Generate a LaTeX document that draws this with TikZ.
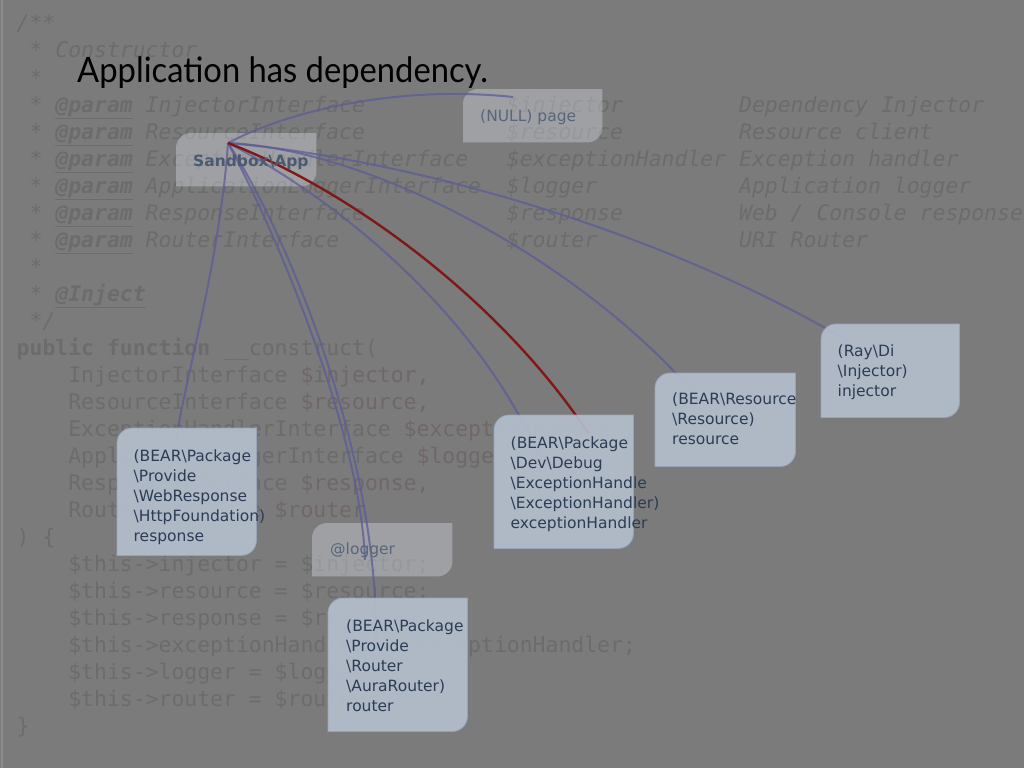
\documentclass[tikz,border=0pt]{standalone}
\usepackage{fontspec}
\setmainfont{DejaVu Sans}
\newfontfamily\codefont{DejaVu Sans Mono}
\newfontfamily\titlefont{Lato}[FakeStretch=0.935]
\usetikzlibrary{calc}
\definecolor{bgc}{RGB}{123,123,123}
\definecolor{codec}{RGB}{108,108,108}
\definecolor{varc}{RGB}{112,104,104}
\definecolor{boxc}{RGB}{181,192,207}
\definecolor{boxline}{RGB}{150,164,184}
\definecolor{lightbox}{RGB}{208,213,220}
\definecolor{boxtxt}{RGB}{44,60,84}
\definecolor{mutetxt}{RGB}{88,102,122}
\definecolor{edgec}{RGB}{92,92,150}
\definecolor{redc}{RGB}{128,24,24}
\pgfdeclarelayer{code}
\pgfdeclarelayer{under}
\pgfdeclarelayer{edges}
\pgfdeclarelayer{over}
\pgfsetlayers{code,under,edges,over,main}
\tikzset{
  codetxt/.style={inner sep=0pt, text=codec, font=\codefont\fontsize{21.43}{27}\selectfont},
  codeit/.style={font=\codefont\itshape\fontsize{21.43}{27}\selectfont},
  bxn/.style={inner sep=0pt, draw=none, fill=none, anchor=north west},
  btxt/.style={inner sep=0pt, anchor=north west, align=left, text=boxtxt, font=\fontsize{15.5}{20}\selectfont},
  mtxt/.style={btxt, text=mutetxt},
  edge/.style={draw=edgec, draw opacity=0.75, line width=2pt},
  redge/.style={draw=redc, line width=2.4pt},
  opaquebox/.style={fill=boxc, fill opacity=0.9, draw=boxline, line width=0.8pt},
  clearbox/.style={fill=lightbox, fill opacity=0.42},
}
\newcommand\cd[4][]{\node[codetxt,#1,anchor=base west] (c#2-#3) at ({16.5+#3*12.9},{31+(#2-1)*27}) {#4};}
\newcommand\ci[3]{\cd[codeit]{#1}{#2}{#3}}
\newcommand\shp[2]{\path[#2] let \p1=(#1.north west), \p2=(#1.south east) in (\x1,\y2) -- (\x1,\y1-15pt) .. controls (\x1,\y1-6.7pt) and (\x1+6.7pt,\y1) .. (\x1+15pt,\y1) -- (\x2,\y1) -- (\x2,\y2+15pt) .. controls (\x2,\y2+6.7pt) and (\x2-6.7pt,\y2) .. (\x2-15pt,\y2) -- cycle;}
\newcommand\prm{\underline{\bfseries @param}}
\begin{document}
\begin{tikzpicture}[x=1pt,y=-1pt]
\useasboundingbox (0,0) rectangle (1024,768);
\begin{pgfonlayer}{code}
\fill[bgc] (0,0) rectangle (1024,768);
\draw[color={rgb,255:red,140;green,140;blue,140}, line width=1.5pt] (2,0) -- (2,768);
\ci{1}{0}{/**}
\ci{2}{1}{* Constructor}
\ci{3}{1}{*}
\ci{4}{1}{*}\ci{4}{3}{\prm}\ci{4}{10}{InjectorInterface}\ci{4}{38}{\$injector}\ci{4}{56}{Dependency Injector}
\ci{5}{1}{*}\ci{5}{3}{\prm}\ci{5}{10}{ResourceInterface}\ci{5}{38}{\$resource}\ci{5}{56}{Resource client}
\ci{6}{1}{*}\ci{6}{3}{\prm}\ci{6}{10}{ExceptionHandlerInterface}\ci{6}{38}{\$exceptionHandler}\ci{6}{56}{Exception handler}
\ci{7}{1}{*}\ci{7}{3}{\prm}\ci{7}{10}{ApplicationLoggerInterface}\ci{7}{38}{\$logger}\ci{7}{56}{Application logger}
\ci{8}{1}{*}\ci{8}{3}{\prm}\ci{8}{10}{ResponseInterface}\ci{8}{38}{\$response}\ci{8}{56}{Web / Console response}
\ci{9}{1}{*}\ci{9}{3}{\prm}\ci{9}{10}{RouterInterface}\ci{9}{38}{\$router}\ci{9}{56}{URI Router}
\ci{10}{1}{*}
\ci{11}{1}{*}\ci{11}{3}{\underline{\bfseries @Inject}}
\ci{12}{1}{*/}
\cd{13}{0}{\bfseries public}\cd{13}{7}{\bfseries function}\cd{13}{16}{\_\_construct(}
\cd{14}{4}{InjectorInterface}\cd[text=varc]{14}{22}{\$injector,}
\cd{15}{4}{ResourceInterface}\cd[text=varc]{15}{22}{\$resource,}
\cd{16}{4}{ExceptionHandlerInterface}\cd[text=varc]{16}{30}{\$exceptionHandler,}
\cd{17}{4}{ApplicationLoggerInterface}\cd[text=varc]{17}{31}{\$logger,}
\cd{18}{4}{ResponseInterface}\cd[text=varc]{18}{22}{\$response,}
\cd{19}{4}{RouterInterface}\cd[text=varc]{19}{20}{\$router}
\cd{20}{0}{) \{}
\cd{21}{4}{\$this->injector = \$injector;}
\cd{22}{4}{\$this->resource = \$resource;}
\cd{23}{4}{\$this->response = \$response;}
\cd{24}{4}{\$this->exceptionHandler = \$exceptionHandler;}
\cd{25}{4}{\$this->logger = \$logger;}
\cd{26}{4}{\$this->router = \$router;}
\cd{27}{0}{\}}
\end{pgfonlayer}

% title
\node[inner sep=0pt, anchor=base west, font=\titlefont\fontsize{35}{40}\selectfont, text=black] (title) at (77,82) {Application has dependency.};

% box frames (named nodes)
\node[bxn, minimum width=140pt, minimum height=53pt] (app) at (176,133) {};
\node[bxn, minimum width=139pt, minimum height=53pt] (null) at (463,89) {};
\node[bxn, minimum width=140pt, minimum height=53pt] (logger) at (312,523) {};
\node[bxn, minimum width=139pt, minimum height=127pt] (resp) at (117,428) {};
\node[bxn, minimum width=139pt, minimum height=133pt] (exc) at (494,415) {};
\node[bxn, minimum width=140pt, minimum height=93pt] (res) at (655,373) {};
\node[bxn, minimum width=138pt, minimum height=93pt] (inj) at (821,324) {};
\node[bxn, minimum width=139pt, minimum height=133pt] (router) at (328,598) {};

% texts
\node[mtxt, font=\bfseries\fontsize{15.5}{20}\selectfont, text={rgb,255:red,76;green,90;blue,112}] (app-t) at ($(app.north west)+(17,21.5)$) {Sandbox\textbackslash App};
\node[mtxt] (null-t) at ($(null.north west)+(17,21)$) {(NULL) page};
\node[mtxt] (logger-t) at ($(logger.north west)+(18,20)$) {@logger};
\node[btxt] (resp-t) at ($(resp.north west)+(16.5,22)$) {(BEAR\textbackslash Package\\\textbackslash Provide\\\textbackslash WebResponse\\\textbackslash HttpFoundation)\\response};
\node[btxt] (exc-t) at ($(exc.north west)+(16.5,21.5)$) {(BEAR\textbackslash Package\\\textbackslash Dev\textbackslash Debug\\\textbackslash ExceptionHandle\\\textbackslash ExceptionHandler)\\exceptionHandler};
\node[btxt] (res-t) at ($(res.north west)+(17,20)$) {(BEAR\textbackslash Resource\\\textbackslash Resource)\\resource};
\node[btxt] (inj-t) at ($(inj.north west)+(16.5,21)$) {(Ray\textbackslash Di\\\textbackslash Injector)\\injector};
\node[btxt] (router-t) at ($(router.north west)+(18,22)$) {(BEAR\textbackslash Package\\\textbackslash Provide\\\textbackslash Router\\\textbackslash AuraRouter)\\router};

% box shapes
\begin{pgfonlayer}{under}
\shp{app}{clearbox}
\shp{null}{clearbox}
\shp{logger}{clearbox}
\end{pgfonlayer}
\begin{pgfonlayer}{over}
\shp{resp}{opaquebox}
\shp{exc}{opaquebox}
\shp{res}{opaquebox}
\shp{inj}{opaquebox}
\shp{router}{opaquebox}
\end{pgfonlayer}

% connectors
\coordinate (o) at ($(app.north west)+(52,10)$);
\coordinate (nullend) at ($(null.north west)+(50,8)$);
\coordinate (injend) at ($(inj.north west)+(27,17)$);
\coordinate (resend) at ($(res.north west)+(40,22)$);
\coordinate (redend) at ($(exc.north west)+(94,18)$);
\coordinate (excend) at ($(exc.north west)+(46,42)$);
\coordinate (respend) at ($(resp.north west)+(59,12)$);
\coordinate (logend) at ($(logger.north west)+(53,37)$);
\coordinate (routend) at ($(router.north west)+(48,42)$);
\begin{pgfonlayer}{edges}
\draw[edge] (o) .. controls (290,110) and (400,85) .. (nullend);
\draw[edge] (o) .. controls (400,158) and (650,225) .. (injend);
\draw[edge] (o) .. controls (380,150) and (590,270) .. (resend);
\draw[edge] (o) .. controls (320,190) and (470,300) .. (excend);
\draw[edge] (o) .. controls (220,260) and (185,380) .. (respend);
\draw[edge] (o) .. controls (275,230) and (360,430) .. (logend);
\draw[edge] (o) .. controls (285,230) and (378,450) .. (routend);
\draw[redge] (o) .. controls (350,190) and (500,300) .. (redend);
\end{pgfonlayer}
\end{tikzpicture}
\end{document}
